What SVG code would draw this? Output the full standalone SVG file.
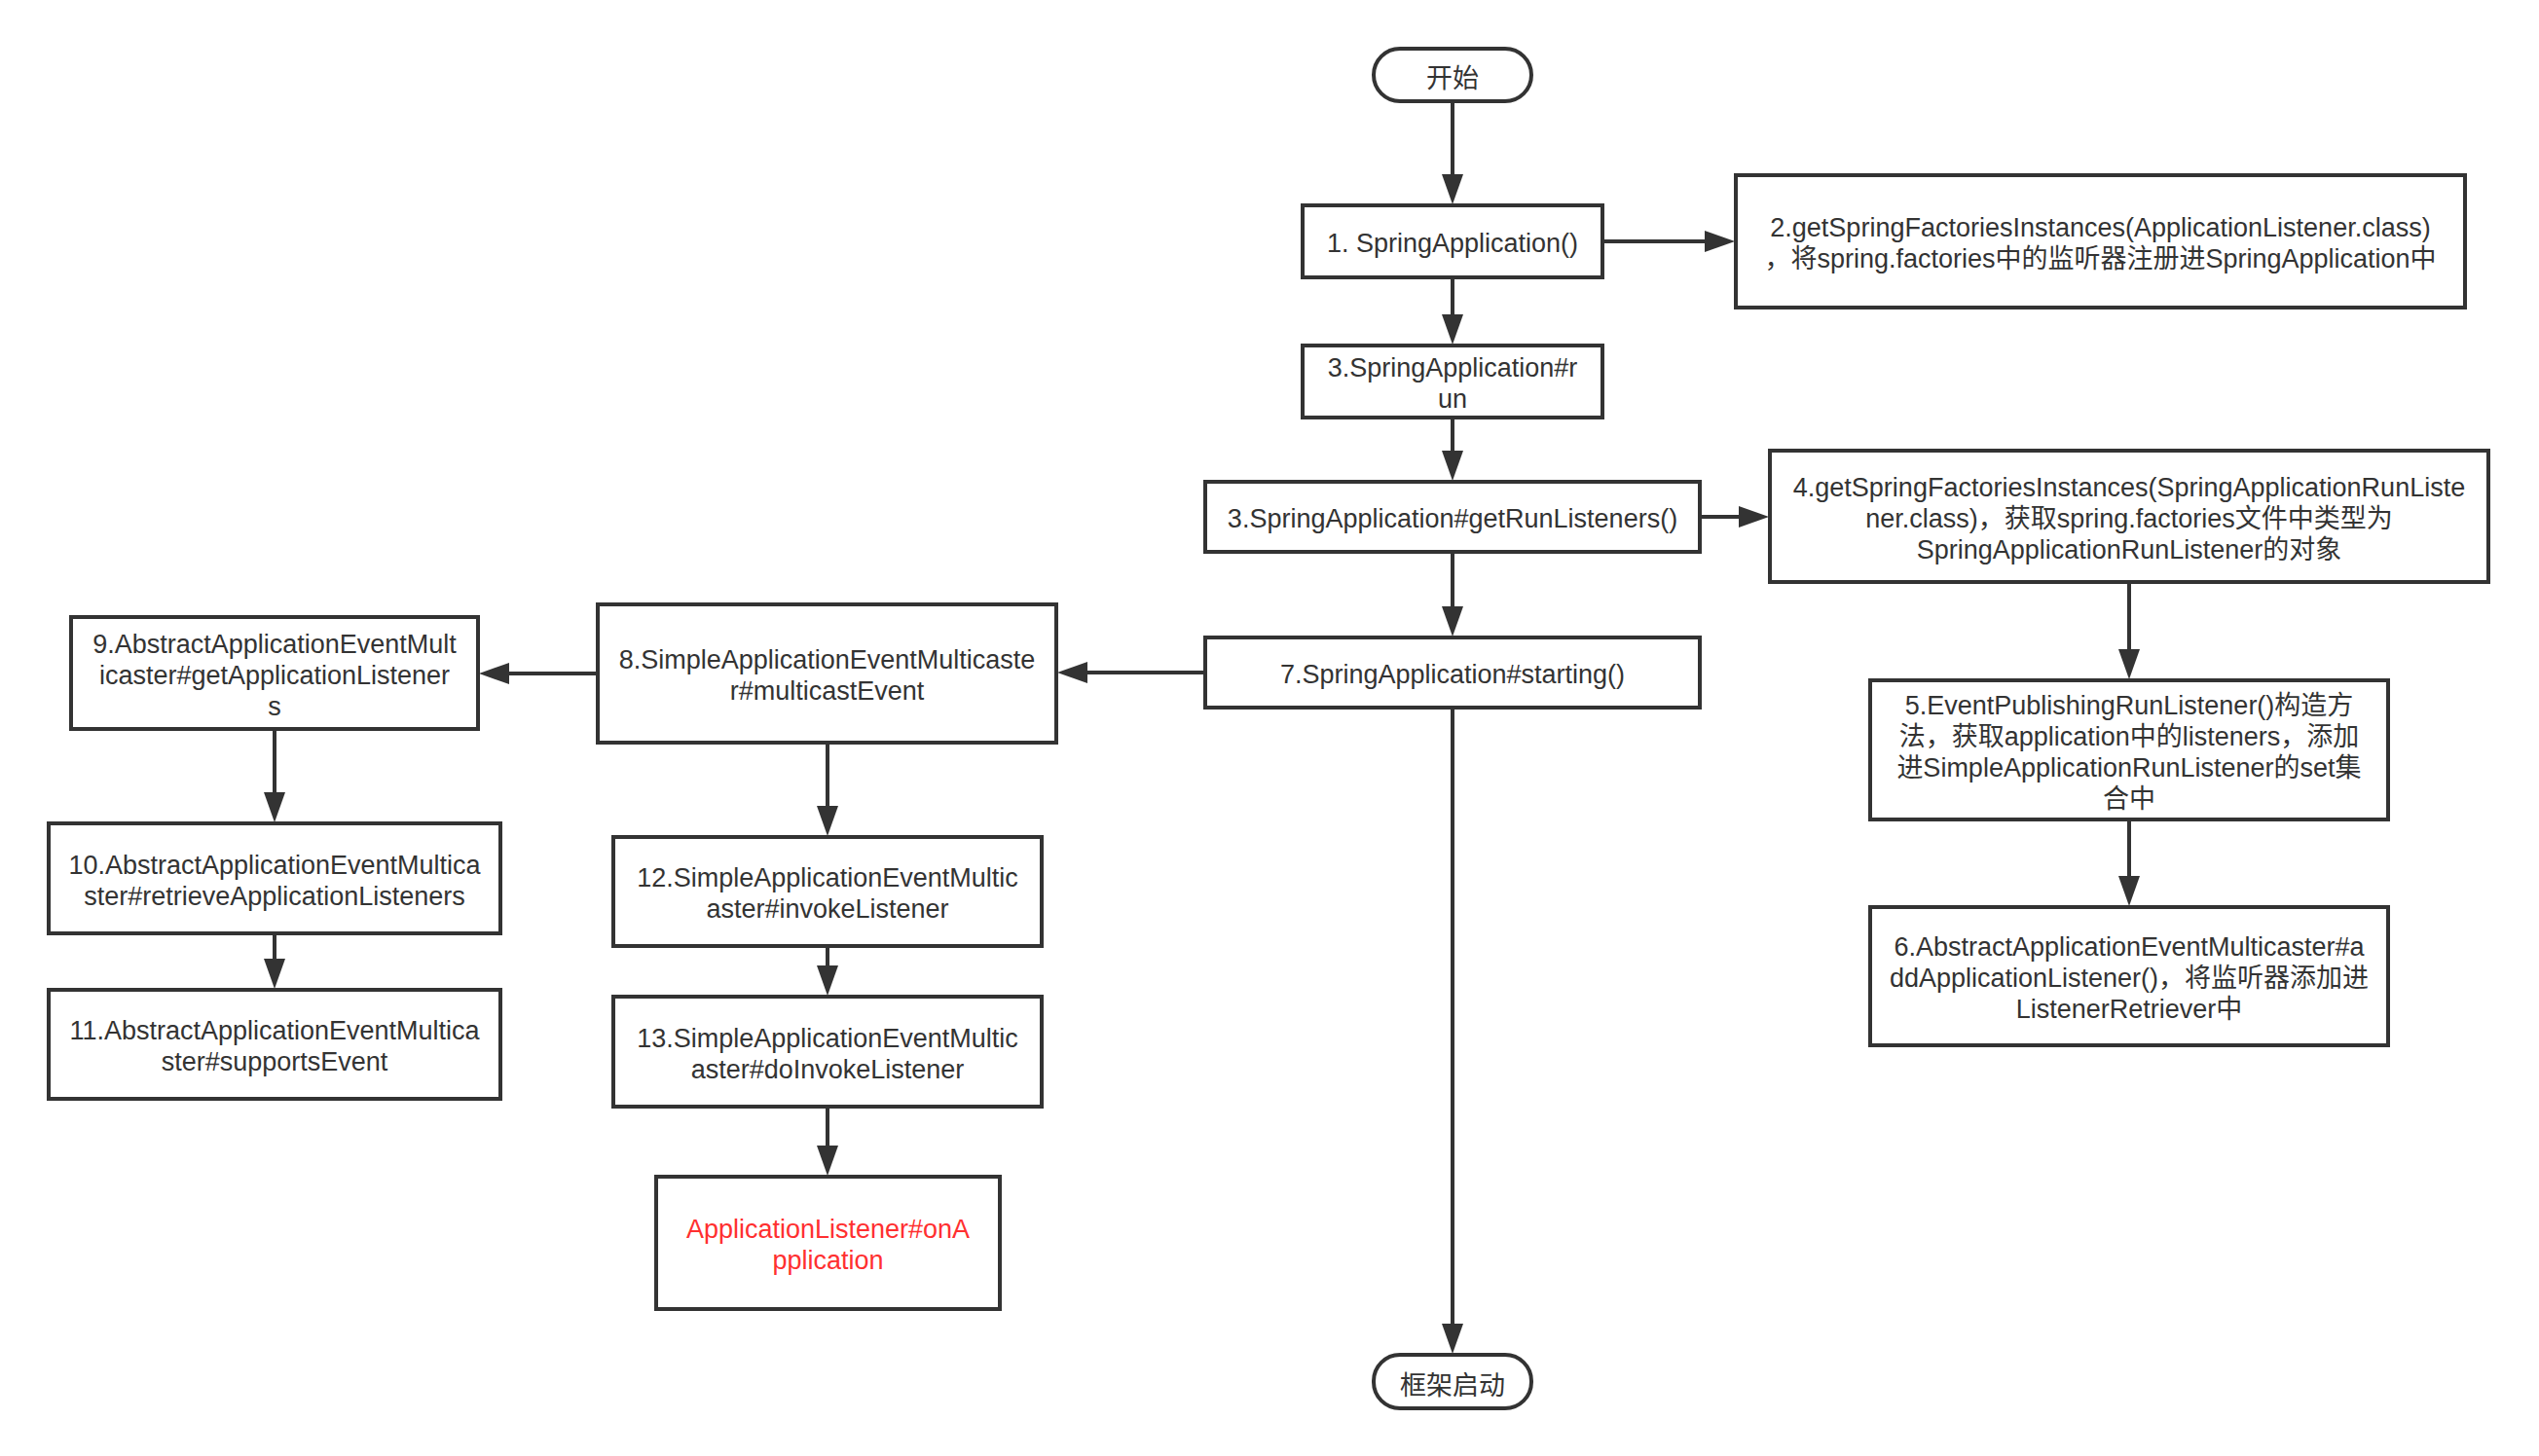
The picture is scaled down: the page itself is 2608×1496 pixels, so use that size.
<svg xmlns="http://www.w3.org/2000/svg" width="2608" height="1496" viewBox="0 0 2608 1496">
<defs>
<style>
.box{fill:#fff;stroke:#333;stroke-width:4}
.t{font-family:"Liberation Sans","Noto Sans CJK SC",sans-serif;font-size:27px;fill:#333;text-anchor:middle}
.red{fill:#ff3030}
.c{fill:none;stroke:#333;stroke-width:4;marker-end:url(#arr)}
</style>
<marker id="arr" markerWidth="32" markerHeight="22" refX="1" refY="11" orient="auto" markerUnits="userSpaceOnUse">
<path d="M0,0 L31,11 L0,22 Z" fill="#333"/>
</marker>
</defs>
<rect width="2608" height="1496" fill="#fff"/>
<g id="connectors">
<path class="c" d="M1492,104 L1492,180"/>
<path class="c" d="M1492,285 L1492,324"/>
<path class="c" d="M1492,429 L1492,464"/>
<path class="c" d="M1492,567 L1492,624"/>
<path class="c" d="M1492,727 L1492,1361"/>
<path class="c" d="M1647,248 L1752,248"/>
<path class="c" d="M1746,531 L1787,531"/>
<path class="c" d="M2187,598 L2187,668"/>
<path class="c" d="M2187,842 L2187,901"/>
<path class="c" d="M1238,691 L1116,691"/>
<path class="c" d="M614,692 L522,692"/>
<path class="c" d="M282,749 L282,815"/>
<path class="c" d="M282,959 L282,986"/>
<path class="c" d="M850,763 L850,829"/>
<path class="c" d="M850,972 L850,993"/>
<path class="c" d="M850,1137 L850,1178"/>
</g>
<g id="start">
<rect class="box" x="1411" y="50" width="162" height="54" rx="27"/>
<text class="t" x="1492" y="90">开始</text>
</g>
<g id="n1">
<rect class="box" x="1338" y="211" width="308" height="74"/>
<text class="t" x="1492" y="259">1. SpringApplication()</text>
</g>
<g id="n2">
<rect class="box" x="1783" y="180" width="749" height="136"/>
<text class="t" x="2157.5" y="243"><tspan x="2157.5">2.getSpringFactoriesInstances(ApplicationListener.class)</tspan><tspan x="2157.5" dy="32">，将spring.factories中的监听器注册进SpringApplication中</tspan></text>
</g>
<g id="n3">
<rect class="box" x="1338" y="355" width="308" height="74"/>
<text class="t" x="1492" y="387"><tspan x="1492">3.SpringApplication#r</tspan><tspan x="1492" dy="32">un</tspan></text>
</g>
<g id="n3b">
<rect class="box" x="1238" y="495" width="508" height="72"/>
<text class="t" x="1492" y="542">3.SpringApplication#getRunListeners()</text>
</g>
<g id="n4">
<rect class="box" x="1818" y="463" width="738" height="135"/>
<text class="t" x="2187" y="509.5"><tspan x="2187">4.getSpringFactoriesInstances(SpringApplicationRunListe</tspan><tspan x="2187" dy="32">ner.class)，获取spring.factories文件中类型为</tspan><tspan x="2187" dy="32">SpringApplicationRunListener的对象</tspan></text>
</g>
<g id="n5">
<rect class="box" x="1921" y="699" width="532" height="143"/>
<text class="t" x="2187" y="733.5"><tspan x="2187">5.EventPublishingRunListener()构造方</tspan><tspan x="2187" dy="32">法，获取application中的listeners，添加</tspan><tspan x="2187" dy="32">进SimpleApplicationRunListener的set集</tspan><tspan x="2187" dy="32">合中</tspan></text>
</g>
<g id="n6">
<rect class="box" x="1921" y="932" width="532" height="142"/>
<text class="t" x="2187" y="982"><tspan x="2187">6.AbstractApplicationEventMulticaster#a</tspan><tspan x="2187" dy="32">ddApplicationListener()，将监听器添加进</tspan><tspan x="2187" dy="32">ListenerRetriever中</tspan></text>
</g>
<g id="n7">
<rect class="box" x="1238" y="655" width="508" height="72"/>
<text class="t" x="1492" y="702">7.SpringApplication#starting()</text>
</g>
<g id="n8">
<rect class="box" x="614" y="621" width="471" height="142"/>
<text class="t" x="849.5" y="687"><tspan x="849.5">8.SimpleApplicationEventMulticaste</tspan><tspan x="849.5" dy="32">r#multicastEvent</tspan></text>
</g>
<g id="n9">
<rect class="box" x="73" y="634" width="418" height="115"/>
<text class="t" x="282" y="670.5"><tspan x="282">9.AbstractApplicationEventMult</tspan><tspan x="282" dy="32">icaster#getApplicationListener</tspan><tspan x="282" dy="32">s</tspan></text>
</g>
<g id="n10">
<rect class="box" x="50" y="846" width="464" height="113"/>
<text class="t" x="282" y="897.5"><tspan x="282">10.AbstractApplicationEventMultica</tspan><tspan x="282" dy="32">ster#retrieveApplicationListeners</tspan></text>
</g>
<g id="n11">
<rect class="box" x="50" y="1017" width="464" height="112"/>
<text class="t" x="282" y="1068"><tspan x="282">11.AbstractApplicationEventMultica</tspan><tspan x="282" dy="32">ster#supportsEvent</tspan></text>
</g>
<g id="n12">
<rect class="box" x="630" y="860" width="440" height="112"/>
<text class="t" x="850" y="911"><tspan x="850">12.SimpleApplicationEventMultic</tspan><tspan x="850" dy="32">aster#invokeListener</tspan></text>
</g>
<g id="n13">
<rect class="box" x="630" y="1024" width="440" height="113"/>
<text class="t" x="850" y="1075.5"><tspan x="850">13.SimpleApplicationEventMultic</tspan><tspan x="850" dy="32">aster#doInvokeListener</tspan></text>
</g>
<g id="n14">
<rect class="box" x="674" y="1209" width="353" height="136"/>
<text class="t red" x="850.5" y="1272"><tspan x="850.5">ApplicationListener#onA</tspan><tspan x="850.5" dy="32">pplication</tspan></text>
</g>
<g id="end">
<rect class="box" x="1411" y="1392" width="162" height="55" rx="27"/>
<text class="t" x="1492" y="1433">框架启动</text>
</g>
</svg>
